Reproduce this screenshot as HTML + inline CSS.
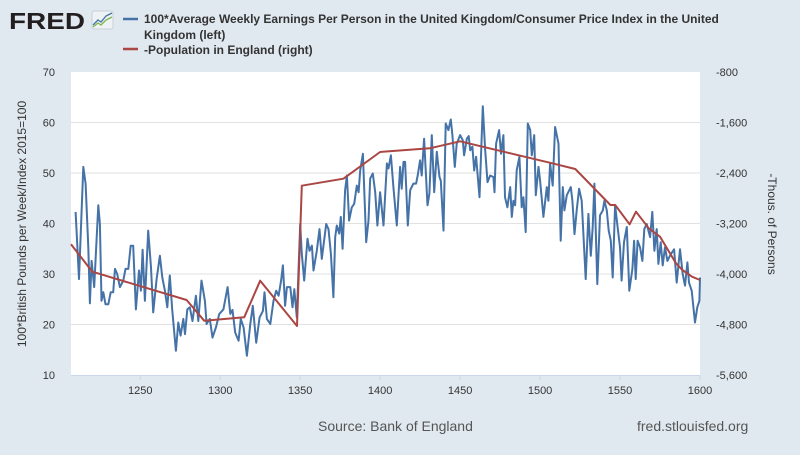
<!DOCTYPE html>
<html><head><meta charset="utf-8"><style>
body{margin:0;width:800px;height:450px;background:#e1e9f0;font-family:"Liberation Sans",sans-serif;overflow:hidden}
</style></head><body>
<svg width="800" height="450" viewBox="0 0 800 450">
<g>
<text x="9" y="29" font-size="23" font-weight="bold" fill="#231f20" textLength="76" lengthAdjust="spacingAndGlyphs">FRED</text>
<rect x="92" y="11" width="21" height="18" fill="#eef2f5" stroke="#c8d0d8" stroke-width="1" rx="2"/>
<polyline points="93,25 98,20 101,22 106,16 112,13" fill="none" stroke="#4572a7" stroke-width="1.3"/>
<polyline points="93,27 98,23 101,25 106,20 112,17" fill="none" stroke="#7ab648" stroke-width="1.3"/>
</g>
<g>
<line x1="123" y1="19" x2="138" y2="19" stroke="#4572a7" stroke-width="2.5"/>
<text x="144" y="23" font-size="12" font-weight="bold" fill="#333">100*Average Weekly Earnings Per Person in the United Kingdom/Consumer Price Index in the United</text>
<text x="144" y="39" font-size="12" font-weight="bold" fill="#333">Kingdom (left)</text>
<line x1="123" y1="49" x2="138" y2="49" stroke="#aa4643" stroke-width="2.5"/>
<text x="144" y="54" font-size="12" font-weight="bold" fill="#333">-Population in England (right)</text>
</g>
<rect x="71" y="72" width="629" height="303" fill="#fff"/>
<g id="grid"></g><g id="axes"></g><g id="series"></g>
<text transform="translate(26,224) rotate(-90)" text-anchor="middle" font-size="12" fill="#333">100*British Pounds per Week/Index 2015=100</text>
<text transform="translate(768,224) rotate(90)" text-anchor="middle" font-size="12" fill="#333">-Thous. of Persons</text>
<text x="318" y="431" font-size="14" fill="#555">Source: Bank of England</text>
<text x="637" y="431" font-size="14" fill="#555">fred.stlouisfed.org</text>
</svg>
<script>
const xTicks=[1250,1300,1350,1400,1450,1500,1550,1600];
const leftTicks=[10,20,30,40,50,60,70];
const rightTicks=["-5,600","-4,800","-4,000","-3,200","-2,400","-1,600","-800"];
const rightTickVals=[-5600,-4800,-4000,-3200,-2400,-1600,-800];
const earnYears=[1209.6,1211.7,1214.4,1215.8,1217.5,1218.5,1219.6,1221.2,1223.8,1224.8,1225.8,1226.9,1228.3,1230,1231.5,1233.1,1234.2,1235.6,1237.3,1239.4,1240.8,1242.5,1244,1245.6,1247.3,1249.2,1250.4,1251.5,1252.9,1255,1256.7,1258.1,1260.2,1262.3,1263.8,1265.4,1266.9,1268.5,1270,1272.3,1273.8,1275.2,1276.9,1278,1279.4,1281,1282.7,1284.8,1286.3,1288.3,1290.4,1291.5,1293.5,1295.2,1297.3,1299.4,1302,1304.6,1306.3,1307.7,1309.4,1311.5,1312.9,1314.6,1316.7,1318.8,1320.4,1322.5,1324.6,1326.7,1327.7,1329.2,1331.3,1333.3,1335,1336.5,1338.1,1339.2,1340.6,1341.7,1343.8,1345.2,1346.3,1347.9,1350,1351,1352.5,1354.6,1355.8,1357.3,1358.3,1360.4,1362.1,1363.5,1366.3,1367.7,1369.2,1370.8,1371.9,1372.9,1374.4,1375.4,1376.5,1378.1,1379.2,1380.6,1382.3,1383.8,1385.4,1386.5,1387.5,1389.2,1391.3,1392.7,1393.8,1395.4,1396.9,1398.3,1400,1402.1,1404.2,1405.2,1406.7,1408.3,1410.4,1412.5,1413.5,1414.6,1415.6,1417.3,1418.8,1420.8,1422.5,1423.5,1425,1426,1427.5,1429.6,1430.8,1432.3,1433.8,1435.4,1437.1,1437.9,1439.6,1441,1442.7,1444.2,1445.2,1446.7,1447.9,1450,1451.7,1452.5,1454.2,1455.4,1456.3,1457.7,1458.8,1460,1462.1,1464.2,1465.6,1467.1,1468.8,1470.8,1471.5,1472.5,1474.4,1475.6,1477.1,1478.1,1479.6,1481.3,1482.3,1483.3,1484.4,1485.4,1487.1,1488.5,1489.6,1491,1492.3,1493.8,1494.8,1496.3,1497.3,1499,1500,1502.1,1504.2,1505.2,1506.3,1507.9,1509.4,1511.5,1512.9,1514.2,1515.2,1516.7,1519.2,1520.2,1521.5,1522.9,1524.4,1526,1527.1,1528.5,1530.2,1531.7,1532.9,1534,1535.8,1537.5,1539.2,1540.2,1541.7,1542.9,1544.2,1545.4,1546.9,1548.5,1550,1551,1552.5,1554.2,1555.8,1557.7,1558.8,1559.8,1561,1562.5,1564,1565.2,1566.7,1568.8,1570.2,1571.5,1572.9,1574,1575.4,1576.7,1578.1,1579.6,1581.7,1583.8,1585.4,1587.5,1589.2,1590.6,1592.1,1593.1,1594.8,1596.9,1598.3,1599.6,1600];
const earnValues=[42.3,29.0,51.2,47.9,35.3,24.2,32.6,27.4,43.6,39.9,24.7,26.4,24.0,24.0,26.4,26.4,31.0,30.0,27.4,28.7,31.0,31.0,35.6,35.6,23.0,30.7,26.7,34.8,24.7,38.6,31.3,22.4,29.0,33.6,29.3,26.7,23.4,29.7,23.0,14.8,20.4,17.8,21.1,18.1,23.0,23.4,20.7,25.7,20.7,28.7,24.7,20.1,21.1,17.4,19.4,22.1,23.0,27.4,22.1,22.9,18.4,16.8,21.1,19.4,13.8,20.1,23.7,16.4,21.4,22.7,26.4,21.1,20.1,24.7,26.7,25.7,28.7,31.7,23.7,27.4,27.4,23.4,27.0,21.4,39.9,34.0,28.7,37.0,34.6,35.6,30.7,34.6,38.9,33.0,39.9,38.9,34.0,25.4,37.3,39.6,38.0,41.3,35.0,46.6,49.5,40.6,43.2,43.9,47.5,46.2,50.5,53.8,36.3,40.6,48.9,49.9,46.2,39.6,46.2,39.6,51.9,50.9,53.5,47.2,39.6,51.2,46.9,52.2,52.2,39.6,46.6,47.9,47.9,49.5,52.5,49.5,56.8,43.6,45.9,57.5,46.2,54.2,49.2,48.5,38.6,59.8,58.5,60.6,57.5,51.2,55.8,57.5,56.5,53.5,56.8,57.3,54.5,55.2,50.5,53.2,45.2,63.2,54.8,48.2,49.5,49.2,46.2,55.8,58.5,53.8,57.5,45.2,43.2,47.2,41.3,44.5,43.6,50.5,53.2,43.2,45.2,38.3,59.8,58.5,53.5,57.5,45.6,51.2,48.5,41.3,47.2,44.5,51.9,47.5,59.1,55.8,36.6,47.2,42.6,45.6,47.2,44.5,37.9,42.6,46.9,44.5,37.9,29.0,41.9,33.6,39.3,47.9,28.0,41.6,42.6,44.5,42.6,38.6,36.6,29.3,43.6,39.3,35.3,28.7,36.3,39.3,26.7,31.0,36.6,29.0,36.6,35.3,32.6,38.9,39.9,37.3,42.3,34.6,38.9,32.0,36.3,31.7,35.3,32.6,33.9,34.9,28.3,34.9,30.0,27.7,32.3,28.3,26.7,20.4,23.4,24.7,29.3];
const popYears=[1206.7,1220,1279,1290,1315,1325,1348,1351,1377,1400,1431,1450,1506,1522,1544,1547,1556,1560,1568,1575,1585,1589,1595,1600];
const popValues=[-3530,-3963,-4412,-4740,-4686,-4106,-4824,-2601,-2490,-2067,-2009,-1898,-2237,-2337,-2907,-2907,-3213,-3013,-3276,-3409,-3831,-3937,-4043,-4095];
const NS="http://www.w3.org/2000/svg";
const X0=71,X1=700,Y0=72,Y1=375,YMIN=1206.7,YMAX=1600;
function xs(y){return X0+(y-YMIN)/(YMAX-YMIN)*(X1-X0);}
function yl(v){return Y1-(v-10)/60*(Y1-Y0);}
function yr(v){return Y1-(v+5600)/4800*(Y1-Y0);}
function mk(t,a,p){const e=document.createElementNS(NS,t);for(const k in a)e.setAttribute(k,a[k]);p.appendChild(e);return e;}
const grid=document.getElementById('grid'),axes=document.getElementById('axes'),series=document.getElementById('series');
leftTicks.forEach((v,i)=>{
 const y=yl(v);
 if(v>10&&v<70){const g=mk('line',{x1:X0,x2:X1,y1:y,y2:y,stroke:'#e2e2e2','stroke-width':1},grid);
 
 }
 const t=mk('text',{x:55,y:y+4,'text-anchor':'end','font-size':11,fill:'#333'},axes);t.textContent=v;
 
 
});
rightTickVals.forEach((v,i)=>{
 const t=mk('text',{x:716,y:yr(v)+4,'font-size':11,fill:'#333'},axes);t.textContent=rightTicks[i];
 
 
});
mk('line',{x1:X0,x2:X1,y1:Y1+0.5,y2:Y1+0.5,stroke:'#ccd6eb','stroke-width':1},axes);
xTicks.forEach(v=>{
 const x=xs(v);
 mk('line',{x1:x,x2:x,y1:Y1,y2:Y1+5,stroke:'#ccd6eb','stroke-width':1},axes);
 const t=mk('text',{x:x,y:Y1+19,'text-anchor':'middle','font-size':11,fill:'#333'},axes);t.textContent=v;
 
 
});
const bl=mk('polyline',{points:earnYears.map((y,i)=>xs(y).toFixed(1)+','+yl(earnValues[i]).toFixed(1)).join(' '),fill:'none',stroke:'#4572a7','stroke-width':2,'stroke-linejoin':'round'},series);


const rl=mk('polyline',{points:popYears.map((y,i)=>xs(y).toFixed(1)+','+yr(popValues[i]).toFixed(1)).join(' '),fill:'none',stroke:'#aa4643','stroke-width':2,'stroke-linejoin':'round'},series);


</script>
</body></html>
